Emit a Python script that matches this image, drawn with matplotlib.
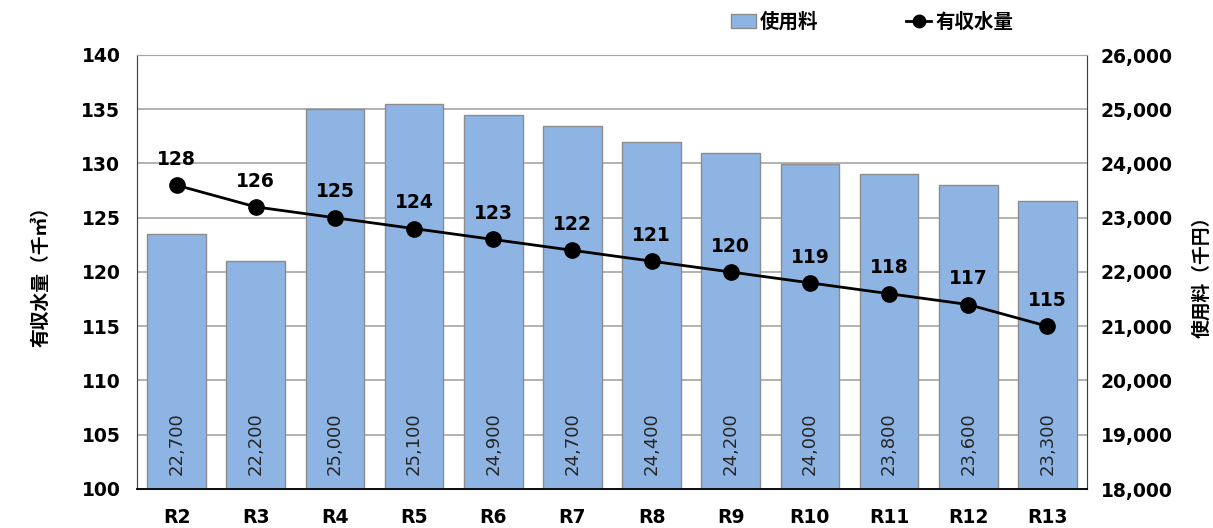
import matplotlib.pyplot as plt
import numpy as np
from matplotlib.ticker import FuncFormatter
from matplotlib.patches import Patch
from matplotlib.lines import Line2D

years = ['R2', 'R3', 'R4', 'R5', 'R6', 'R7', 'R8', 'R9', 'R10', 'R11', 'R12', 'R13']
fee = [22700, 22200, 25000, 25100, 24900, 24700, 24400, 24200, 24000, 23800, 23600, 23300]
volume = [128, 126, 125, 124, 123, 122, 121, 120, 119, 118, 117, 115]

jp = ['Noto Sans CJK JP', 'DejaVu Sans']
plt.rcParams['font.family'] = ['DejaVu Sans', 'Noto Sans CJK JP']

fig = plt.figure(figsize=(12.13, 5.28), dpi=100)
ax = fig.add_axes([137/1213, 1-489/528, 950/1213, 434/528])
ax2 = ax.twinx()
# third axis so the line sits above the bars, same scale as left axis
ax3 = ax2.twinx()
ax2.yaxis.tick_right()
ax2.yaxis.set_label_position('right')

x = np.arange(len(years))

# bars on right axis
ax2.bar(x, fee, width=0.74, color='#8EB4E3', edgecolor='#8c8c8c', linewidth=1, zorder=2)
ax2.set_ylim(18000, 26000)
ax2.set_yticks(np.arange(18000, 26001, 1000))
ax2.yaxis.set_major_formatter(FuncFormatter(lambda v, p: f'{int(v):,}'))

for xi, v in zip(x, fee):
    ax2.text(xi, 18250, f'{v:,}', rotation=90, ha='center', va='bottom',
             fontsize=13, color='#262626', zorder=3)

ax.set_ylim(100, 140)
ax.set_yticks(np.arange(100, 141, 5))
ax.set_xlim(-0.5, len(years) - 0.5)
ax.set_xticks(x)
ax.set_xticklabels(years)
ax.yaxis.grid(True, color='#a6a6a6', linewidth=1.2)
ax.set_axisbelow(True)

ax3.set_ylim(100, 140)
ax3.axis('off')
ax3.plot(x, volume, color='black', linewidth=2, marker='o', markersize=11, zorder=5)
for xi, v in zip(x, volume):
    ax3.text(xi, v + 1.5, str(v), ha='center', va='bottom', fontsize=13.5,
             fontweight='bold', color='black')

for a in (ax, ax2):
    for s in a.spines.values():
        s.set_color('#a6a6a6')
    a.tick_params(length=0, labelsize=13.5)
    for lbl in a.get_yticklabels() + a.get_xticklabels():
        lbl.set_fontweight('bold')
ax2.spines['left'].set_color('#404040')
ax2.spines['right'].set_color('#404040')
ax2.spines['bottom'].set_color('black')
ax2.spines['bottom'].set_linewidth(1.3)
ax.tick_params(axis='x', pad=14)
ax.tick_params(axis='y', pad=12)
ax2.tick_params(axis='y', pad=10)

ax.set_ylabel('有収水量（千㎥）', family=jp, fontsize=13.5, fontweight='bold', labelpad=22)
ax2.set_ylabel('使用料（千円）', family=jp, fontsize=13.5, fontweight='bold', labelpad=14)

# legend
handles = [Patch(facecolor='#8EB4E3', edgecolor='#8c8c8c', label='使用料'),
           Line2D([0], [0], color='black', linewidth=2, marker='o', markersize=9, label='有収水量')]
fig.legend(handles=handles, loc='center', bbox_to_anchor=(872/1213, 1-22/528), ncol=2,
           frameon=False, prop={'family': jp, 'size': 14, 'weight': 'bold'},
           columnspacing=4.5, handlelength=1.3, handletextpad=0.2)

fig.savefig('out.png', dpi=100)
